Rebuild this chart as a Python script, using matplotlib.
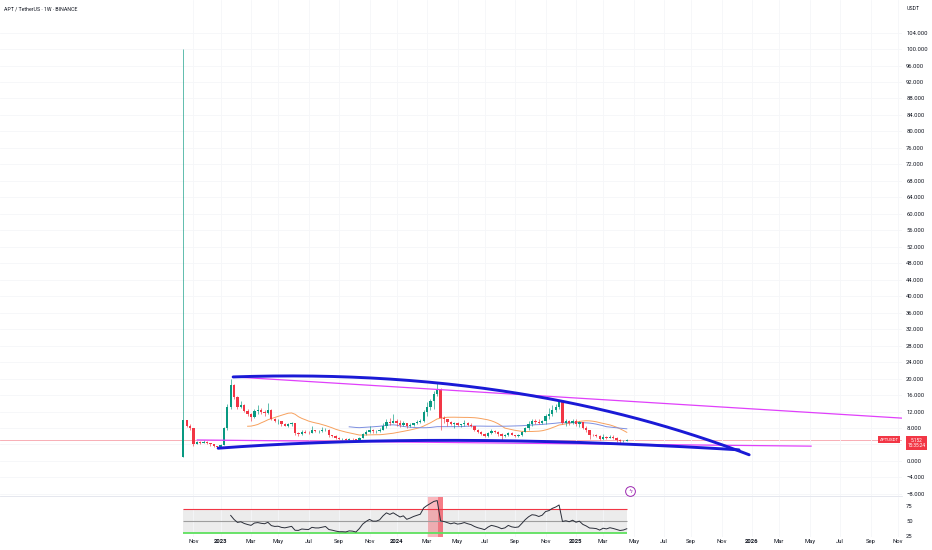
import numpy as np
import pandas as pd
import matplotlib
matplotlib.use("Agg")
import matplotlib.pyplot as plt
import matplotlib.dates as mdates

plt.rcParams['font.family'] = ['Roboto', 'DejaVu Sans']

# %% weekly APT/USDT candles (Binance), first week starts 2022-10-17
week0 = '2022-10-17'
first_open = 1.0
close = [9.9, 8.6, 7.9, 4.1, 4.6, 4.4, 4.7, 4.3, 4.0, 3.6, 3.5, 3.9, 8.0, 13.0, 18.4, 15.5,
         13.1, 13.6, 12.2, 11.3, 10.6, 12.1, 12.4, 11.9, 11.6, 12.4, 10.2, 9.6, 9.7, 8.9, 8.6, 8.9,
         9.2, 6.7, 6.6, 7.1, 6.9, 6.8, 7.5, 7.2, 7.2, 7.4, 7.6, 6.3, 6.0, 5.6, 5.3, 5.3,
         5.2, 5.4, 5.3, 5.0, 5.6, 6.5, 7.1, 7.6, 7.2, 7.2, 7.5, 8.5, 9.4, 9.1, 9.6, 9.2,
         8.8, 9.1, 8.4, 8.7, 9.1, 9.4, 9.7, 11.9, 13.2, 14.6, 16.3, 17.2, 10.4, 10.1, 9.5, 8.9,
         9.3, 8.7, 8.9, 9.3, 8.8, 8.4, 7.6, 7.0, 6.6, 6.1, 6.8, 7.3, 7.0, 6.6, 6.0, 6.2,
         6.8, 6.3, 6.1, 6.2, 7.0, 8.0, 8.9, 9.6, 9.5, 9.2, 9.6, 10.9, 11.3, 12.3, 13.0, 14.2,
         9.3, 9.6, 9.2, 9.8, 9.0, 9.4, 8.1, 7.4, 6.4, 6.3, 6.1, 5.4, 5.9, 5.6, 5.9, 5.6,
         5.2, 4.8, 4.9, 5.152]
high = [100.0, 10.0, 9.0, 7.9, 4.9, 4.8, 5.0, 4.8, 4.4, 4.0, 3.7, 4.1, 8.3, 13.8, 20.0, 18.8,
        15.8, 14.5, 13.9, 12.5, 11.6, 12.6, 13.6, 12.8, 12.3, 14.0, 12.6, 10.4, 10.2, 9.8, 9.1, 9.2,
        9.4, 9.3, 7.0, 7.5, 7.4, 7.2, 8.4, 7.6, 7.4, 8.2, 8.0, 7.7, 6.4, 6.3, 5.7, 5.6,
        5.5, 5.6, 5.6, 5.3, 5.8, 6.9, 7.4, 8.6, 7.8, 7.6, 7.9, 9.2, 10.1, 10.4, 11.3, 10.2,
        10.0, 9.6, 9.3, 9.2, 9.3, 10.0, 10.2, 12.3, 14.2, 15.1, 17.0, 19.0, 17.6, 10.9, 10.2, 9.8,
        9.4, 9.4, 9.0, 10.0, 9.4, 9.1, 8.5, 7.8, 7.2, 6.8, 7.0, 7.8, 7.5, 7.2, 6.8, 6.6,
        7.0, 7.0, 6.4, 6.5, 7.3, 8.3, 9.6, 10.3, 10.3, 10.1, 10.0, 11.4, 12.8, 13.5, 13.8, 14.9,
        14.4, 10.2, 9.9, 10.2, 10.2, 9.8, 9.5, 8.4, 7.5, 6.6, 6.6, 6.3, 6.6, 6.0, 6.2, 6.2,
        5.8, 5.3, 5.1, 5.4]
low = [1.0, 8.2, 7.5, 3.6, 4.0, 4.1, 4.3, 4.1, 3.6, 3.4, 3.2, 3.4, 3.8, 7.6, 12.5, 15.0,
       12.5, 12.8, 11.8, 10.9, 9.6, 10.4, 11.5, 11.3, 11.0, 11.3, 9.9, 9.4, 9.0, 8.6, 8.4, 8.3,
       8.6, 6.3, 6.0, 6.4, 6.7, 6.6, 6.7, 7.0, 6.8, 7.0, 7.2, 5.9, 5.8, 5.4, 5.1, 5.0,
       5.0, 5.1, 5.2, 4.9, 4.9, 5.5, 6.3, 6.9, 6.9, 6.8, 7.0, 7.4, 8.0, 8.8, 9.1, 8.4,
       8.3, 8.6, 8.0, 8.3, 8.5, 8.9, 9.1, 9.5, 11.0, 12.4, 12.7, 15.8, 7.6, 9.3, 8.5, 8.7,
       8.0, 8.5, 8.3, 8.6, 8.6, 8.2, 7.3, 6.7, 6.3, 5.8, 5.9, 6.6, 6.8, 6.0, 5.1, 5.9,
       6.1, 6.2, 5.8, 5.9, 6.1, 7.0, 7.6, 8.6, 8.9, 9.0, 8.9, 9.0, 10.3, 10.9, 11.8, 12.7,
       9.0, 8.6, 8.8, 8.9, 8.6, 8.2, 7.8, 7.1, 5.4, 6.0, 5.9, 5.2, 5.2, 5.4, 5.5, 5.3,
       4.6, 4.4, 4.6, 4.9]

# drawings on the chart (date, price)
top_arc_dates = ['2023-01-28', '2024-09-13', '2025-12-30']   # start, control, end
top_arc_prices = [20.4, 22.8, 1.5]
low_arc_dates = ['2022-12-28', '2024-04-01', '2025-12-09']
low_arc_prices = [3.1, 7.1, 2.7]
upper_trend_dates = ['2023-01-31', '2026-11-11']
upper_trend_prices = [20.4, 10.4]
lower_trend_dates = ['2022-11-15', '2026-05-07']
lower_trend_prices = [5.1, 3.6]
overbought_span = ['2024-03-03', '2024-04-05']
overbought_peak = ['2024-03-27', '2024-04-05']
event_date = '2025-04-28'
last_price = 5.152
countdown = '15:35:24'

# %%
dates = pd.date_range(week0, periods=len(close), freq='7D')
t = mdates.date2num(dates)
c = np.array(close)
o = np.r_[first_open, c[:-1]]
h = np.array(high)
l = np.array(low)
up = c >= o
GREEN, RED = '#089981', '#f23645'
cols = np.where(up, GREEN, RED)

ma20 = pd.Series(c).rolling(20).mean()
ma50 = pd.Series(c).rolling(50).mean()

delta = pd.Series(c).diff()
gain = delta.clip(lower=0).ewm(alpha=1/14, adjust=False, min_periods=14).mean()
loss = (-delta.clip(upper=0)).ewm(alpha=1/14, adjust=False, min_periods=14).mean()
rsi = 100 - 100 / (1 + gain / loss)

def dnum(ds):
    return mdates.date2num(pd.to_datetime(ds))

def bezier(xs, ys, n=200):
    s = np.linspace(0, 1, n)[:, None]
    p = np.array([xs, ys]).T
    pts = (1 - s)**2 * p[0] + 2 * s * (1 - s) * p[1] + s**2 * p[2]
    return pts[:, 0], pts[:, 1]

fig = plt.figure(figsize=(9.32, 5.5), dpi=100)
ax = fig.add_axes([0, 0.0982, 0.9678, 0.9018])
ax2 = fig.add_axes([0, 0.0236, 0.9678, 0.0727], sharex=ax)

# candles
ax.vlines(t, l, h, colors=list(cols), lw=0.45, zorder=3)
body = np.maximum(np.abs(c - o), 0.08)
ax.bar(t, body, bottom=np.minimum(o, c), width=4.8, color=list(cols), linewidth=0, zorder=3)
ax.plot(t, ma20, color='#f7a15e', lw=0.7, zorder=2)
ax.plot(t, ma50, color='#7d8fe0', lw=0.7, zorder=2)

# last price line
ax.axhline(last_price, color='#f7a1aa', lw=0.6, zorder=1)

# trend drawings
bx, by = bezier(dnum(top_arc_dates), top_arc_prices)
ax.plot(bx, by, color='#1a1ad6', lw=2.1, zorder=5, solid_capstyle='round')
bx, by = bezier(dnum(low_arc_dates), low_arc_prices)
ax.plot(bx, by, color='#1a1ad6', lw=2.1, zorder=5, solid_capstyle='round')
ax.plot(dnum(upper_trend_dates), upper_trend_prices, color='#e040fb', lw=0.9, zorder=4)
ax.plot(dnum(lower_trend_dates), lower_trend_prices, color='#e040fb', lw=0.9, zorder=4)

# event marker
ax.plot(dnum(event_date), -7.3, 'o', ms=7, mfc='white', mec='#9c27b0', mew=0.7, zorder=6)
ax.text(dnum(event_date), -7.3, 'ϟ', color='#9c27b0', fontsize=4.5, ha='center', va='center',
        zorder=7, family='DejaVu Sans')

ax.set_xlim(dnum('2021-10-03'), dnum('2026-11-11'))
ax.set_ylim(-8.5, 111.9)
yt = np.arange(-8, 105, 4)
ax.set_yticks(yt)
# 4.000 sits behind the price box
ax.set_yticklabels(['' if v == 4 else f'{v:.3f}'.replace('-', '\u2212') for v in yt])
ax.yaxis.tick_right()
ax.tick_params(axis='y', length=0, pad=3, labelsize=4.2, labelcolor='#131722')
ax.tick_params(axis='x', length=0, labelbottom=False)
ax.grid(True, color='#f5f6f9', lw=0.6)
for s in ['top', 'left', 'right']:
    ax.spines[s].set_visible(False)
ax.spines['bottom'].set_color('#e0e3eb')
ax.spines['bottom'].set_linewidth(0.6)

# price labels at right
tr = ax.get_yaxis_transform()
ax.text(0.9857, last_price, 'APTUSDT', transform=tr, fontsize=3.2, color='white', ha='center',
        va='center', zorder=8,
        bbox=dict(boxstyle='square,pad=0.35', fc=RED, ec='none'))
ax.text(1.016, last_price - 0.85, f'{last_price:.3f}\n{countdown}', transform=tr, fontsize=3.4,
        color='white', ha='center', va='center', linespacing=1.05, zorder=8, clip_on=False,
        bbox=dict(boxstyle='square,pad=0.4', fc=RED, ec='none'))

# RSI pane
t0, t1 = t[0], t[-1]
ax2.fill_between([t0, t1], 30, 70, color='#ececec', lw=0, zorder=1)
ax2.hlines(70, t0, t1, color=RED, lw=0.8, zorder=2)
ax2.hlines(50, t0, t1, color='#9e9e9e', lw=0.8, zorder=2)
ax2.hlines(30, t0, t1, color='#5ee05e', lw=1.3, zorder=2)
ax2.axvspan(dnum(overbought_span[0]), dnum(overbought_span[1]), color='#f23645', alpha=0.35,
            lw=0, zorder=1.5)
ax2.axvspan(dnum(overbought_peak[0]), dnum(overbought_peak[1]), color='#f23645', alpha=0.45,
            lw=0, zorder=1.6)
ax2.plot(t, rsi, color='#2a2e39', lw=0.7, zorder=3)
ax2.set_ylim(23.3, 90)
ax2.set_yticks([25, 50, 75])
ax2.yaxis.tick_right()
ax2.tick_params(axis='y', length=0, pad=3, labelsize=4.2, labelcolor='#131722')
for s in ['top', 'left', 'right', 'bottom']:
    ax2.spines[s].set_visible(False)

# time labels sit on the first weekly bar of every other month
bars = pd.Series(pd.date_range(week0, '2026-12-31', freq='7D'))
firsts = bars.groupby([bars.dt.year, bars.dt.month]).first()
xt = [d for d in firsts if d.month in (1, 3, 5, 7, 9, 11)]
ax2.set_xticks(mdates.date2num(xt))
ax2.set_xticklabels([str(d.year) if d.month == 1 else d.strftime('%b') for d in xt])
ax2.tick_params(axis='x', length=0, pad=1.5, labelsize=4.2, labelcolor='#131722')
for lab, d in zip(ax2.get_xticklabels(), xt):
    if d.month == 1:
        lab.set_fontweight('bold')
ax2.grid(True, axis='x', color='#f5f6f9', lw=0.6)

fig.text(4/932, 1 - 9/550, 'APT / TetherUS \u00b7 1W \u00b7 BINANCE', fontsize=3.8,
         color='#131722', va='center')
fig.text(907/932, 1 - 9/550, 'USDT', fontsize=3.8, color='#131722', va='center')

fig.savefig('out.png', dpi=100)
